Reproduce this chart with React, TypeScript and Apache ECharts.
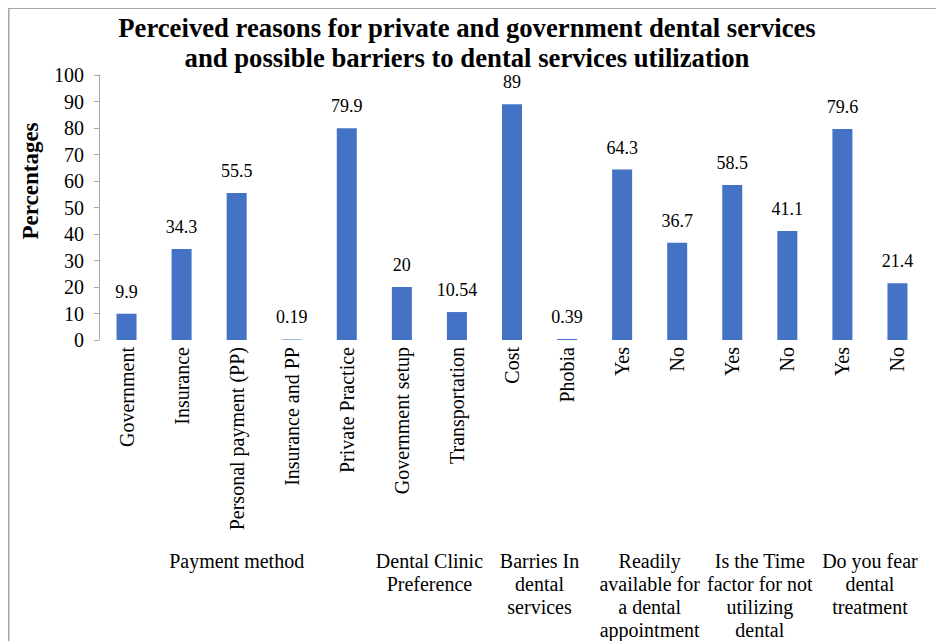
import React, { useEffect, useRef } from "react";
import * as echarts from "echarts";

const categories = [
  "Government",
  "Insurance",
  "Personal payment (PP)",
  "Insurance and PP",
  "Private Practice",
  "Government setup",
  "Transportation",
  "Cost",
  "Phobia",
  "Yes",
  "No",
  "Yes",
  "No",
  "Yes",
  "No",
];
const values = [9.9, 34.3, 55.5, 0.19, 79.9, 20, 10.54, 89, 0.39, 64.3, 36.7, 58.5, 41.1, 79.6, 21.4];
const groupLabels = [
  "Payment method",
  "Dental Clinic\nPreference",
  "Barries In\ndental\nservices",
  "Readily\navailable for\na dental\nappointment",
  "Is the Time\nfactor for not\nutilizing\ndental",
  "Do you fear\ndental\ntreatment",
];
const groupStart = [0, 5, 7, 9, 11, 13];
const groupEnd = [4, 6, 8, 10, 12, 14];
const titleLines = [
  "Perceived reasons for private and government dental services",
  "and possible barriers to dental services utilization",
];
const yTitle = "Percentages";

const FONT = "'Liberation Serif', 'Times New Roman', serif";

export default function App() {
  const ref = useRef<HTMLDivElement>(null);
  useEffect(() => {
    if (!ref.current) return;
    const chart = echarts.init(ref.current, undefined, { renderer: "svg" });
    chart.setOption({
      animation: false,
      backgroundColor: "#ffffff",
      title: {
        text: titleLines.join("\n"),
        left: 454,
        top: 0,
        textAlign: "center",
        textStyle: {
          fontFamily: FONT,
          fontWeight: "bold",
          fontSize: 26.7,
          lineHeight: 30,
          color: "#000",
        },
      },
      grid: { left: 91, top: 67, width: 826, height: 265, containLabel: false },
      xAxis: {
        type: "category",
        data: categories,
        axisLine: { show: false },
        axisTick: { show: false },
        axisLabel: {
          interval: 0,
          rotate: 90,
          margin: 7,
          fontFamily: FONT,
          fontSize: 20,
          color: "#000",
        },
      },
      yAxis: {
        type: "value",
        min: 0,
        max: 100,
        interval: 10,
        axisLine: { show: true, lineStyle: { color: "#a6a6a6" } },
        axisTick: { show: true, length: 5, lineStyle: { color: "#a6a6a6" } },
        splitLine: { show: false },
        axisLabel: {
          margin: 15,
          fontFamily: FONT,
          fontSize: 20,
          color: "#000",
        },
      },
      series: [
        {
          type: "bar",
          data: values,
          barWidth: 20,
          itemStyle: { color: "#4472C4" },
          label: {
            show: true,
            position: "top",
            distance: 13,
            fontFamily: FONT,
            fontSize: 18,
            color: "#000",
          },
        },
      ],
    });

    const groupGraphics = groupLabels.map((g, i) => {
      const a = chart.convertToPixel({ xAxisIndex: 0 }, groupStart[i]) as number;
      const b = chart.convertToPixel({ xAxisIndex: 0 }, groupEnd[i]) as number;
      return {
        type: "text",
        x: (a + b) / 2,
        y: 541,
        style: {
          text: g,
          textAlign: "center",
          textVerticalAlign: "top",
          fontFamily: FONT,
          fontSize: 20,
          lineHeight: 23,
          fill: "#000",
        },
      };
    });

    chart.setOption({
      graphic: [
        {
          type: "line",
          shape: { x1: 0.75, y1: 0, x2: 0.75, y2: 700 },
          style: { stroke: "#a6a6a6", lineWidth: 1.5 },
        },
        {
          type: "line",
          shape: { x1: 0, y1: 0.25, x2: 1000, y2: 0.25 },
          style: { stroke: "#a6a6a6", lineWidth: 1.5 },
        },
        {
          type: "text",
          x: 22,
          y: 173,
          rotation: Math.PI / 2,
          style: {
            text: yTitle,
            textAlign: "center",
            textVerticalAlign: "middle",
            fontFamily: FONT,
            fontWeight: "bold",
            fontSize: 23,
            fill: "#000",
          },
        },
        ...groupGraphics,
      ],
    });
    return () => chart.dispose();
  }, []);
  return (
    <div
      ref={ref}
      style={{ position: "fixed", left: 8, top: 8, width: 928, height: 633 }}
    />
  );
}
